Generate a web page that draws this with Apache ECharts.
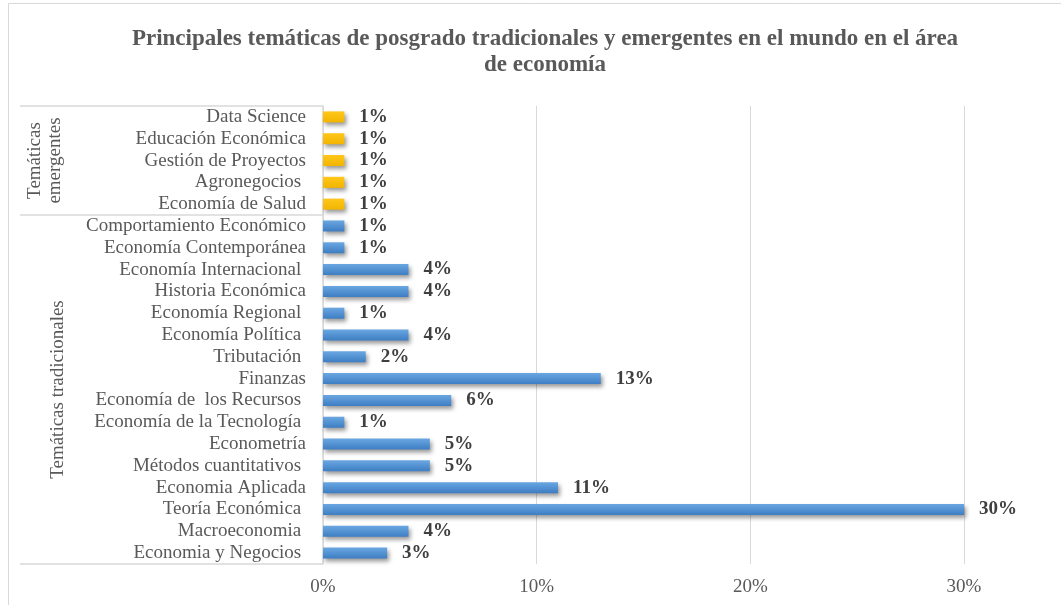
<!DOCTYPE html>
<html>
<head>
<meta charset="utf-8">
<script src="https://cdn.jsdelivr.net/npm/echarts@6/dist/echarts.min.js"></script>
<style>
  html, body { margin: 0; padding: 0; background: #fff; }
  #chart { width: 1061px; height: 605px; }
</style>
</head>
<body>
<div id="chart"></div>
<script>
// categories top to bottom, as printed on the axis
const emergingTopics = ['Data Science', 'Educación Económica', 'Gestión de Proyectos', 'Agronegocios ', 'Economía de Salud'];
const emergingValues = [1, 1, 1, 1, 1];

const traditionalTopics = [
  'Comportamiento Económico', 'Economía Contemporánea', 'Economía Internacional ', 'Historia Económica',
  'Economía Regional ', 'Economía Política ', 'Tributación ', 'Finanzas', 'Economía de  los Recursos ',
  'Economía de la Tecnología ', 'Econometría', 'Métodos cuantitativos ', 'Economia Aplicada',
  'Teoría Económica ', 'Macroeconomia ', 'Economia y Negocios '
];
const traditionalValues = [1, 1, 4, 4, 1, 4, 2, 13, 6, 1, 5, 5, 11, 30, 4, 3];

const groupNames = ['Temáticas\nemergentes', 'Temáticas tradicionales'];
const xTicks = [0, 10, 20, 30];

const serif = '"Liberation Serif", "Times New Roman", serif';

const blueFill = new echarts.graphic.LinearGradient(0, 0, 0, 1, [
  { offset: 0, color: '#6aa7e2' },
  { offset: 1, color: '#3d7dc2' }
]);
const yellowFill = new echarts.graphic.LinearGradient(0, 0, 0, 1, [
  { offset: 0, color: '#ffc71a' },
  { offset: 1, color: '#f2b400' }
]);

const categories = emergingTopics.concat(traditionalTopics);
const barData = emergingValues.map(v => ({ value: v, itemStyle: { color: yellowFill } }))
  .concat(traditionalValues.map(v => ({ value: v, itemStyle: { color: blueFill } })));

const chart = echarts.init(document.getElementById('chart'), null, { renderer: 'canvas' });

const option = {
  animation: false,
  backgroundColor: '#fff',
  title: {
    text: 'Principales temáticas de posgrado tradicionales y emergentes en el mundo en el área\nde economía',
    left: 540,
    top: 21,
    textAlign: 'center',
    textStyle: {
      fontFamily: serif,
      fontSize: 23,
      fontWeight: 'bold',
      color: '#595959',
      lineHeight: 26
    }
  },
  grid: {
    left: 323,
    right: 97,
    top: 106,
    bottom: 41
  },
  xAxis: {
    type: 'value',
    min: xTicks[0],
    max: xTicks[xTicks.length - 1],
    interval: xTicks[1] - xTicks[0],
    axisLine: { show: false },
    axisTick: { show: false },
    splitLine: { lineStyle: { color: '#d9d9d9', width: 1 } },
    axisLabel: {
      formatter: '{value}%',
      fontFamily: serif,
      fontSize: 19,
      color: '#595959',
      margin: 14
    }
  },
  yAxis: {
    type: 'category',
    inverse: true,
    data: categories,
    axisLine: { show: true, lineStyle: { color: '#d9d9d9', width: 1.5 } },
    axisTick: { show: false },
    axisLabel: {
      interval: 0,
      fontFamily: serif,
      fontSize: 19,
      color: '#595959',
      margin: 17
    }
  },
  series: [
    {
      type: 'bar',
      data: barData,
      barWidth: 11,
      itemStyle: {
        shadowColor: 'rgba(0, 0, 0, 0.4)',
        shadowBlur: 4,
        shadowOffsetX: 2,
        shadowOffsetY: 3
      },
      label: {
        show: true,
        position: 'right',
        distance: 15,
        formatter: '{c}%',
        fontFamily: serif,
        fontSize: 19,
        fontWeight: 'bold',
        color: '#3f3f3f'
      }
    }
  ]
};

chart.setOption(option);

// group brackets on the category axis, placed from the axis scale
const band = (chart.convertToPixel({ yAxisIndex: 0 }, categories[1]) - chart.convertToPixel({ yAxisIndex: 0 }, categories[0]));
const edgeTop = idx => chart.convertToPixel({ yAxisIndex: 0 }, categories[idx]) - band / 2;
const nEm = emergingTopics.length;
const n = categories.length;
const bounds = [edgeTop(0), edgeTop(nEm), edgeTop(n - 1) + band];

const sepLine = y => ({
  type: 'line',
  shape: { x1: 20, y1: y, x2: 323, y2: y },
  style: { stroke: '#d9d9d9', lineWidth: 1.5 }
});

chart.setOption({
  graphic: [
    {
      type: 'rect',
      shape: { x: 8.5, y: 3.5, width: 1100, height: 700 },
      style: { fill: null, stroke: '#d9d9d9', lineWidth: 1 },
      silent: true
    },
    sepLine(bounds[0]),
    sepLine(bounds[1]),
    sepLine(bounds[2]),
    {
      type: 'text',
      x: 45,
      y: (bounds[0] + bounds[1]) / 2,
      rotation: Math.PI / 2,
      style: {
        text: groupNames[0],
        align: 'center',
        verticalAlign: 'middle',
        fontFamily: serif,
        fontSize: 19,
        lineHeight: 20,
        fill: '#595959'
      }
    },
    {
      type: 'text',
      x: 58,
      y: (bounds[1] + bounds[2]) / 2,
      rotation: Math.PI / 2,
      style: {
        text: groupNames[1],
        align: 'center',
        verticalAlign: 'middle',
        fontFamily: serif,
        fontSize: 19,
        fill: '#595959'
      }
    }
  ]
});
</script>
</body>
</html>
